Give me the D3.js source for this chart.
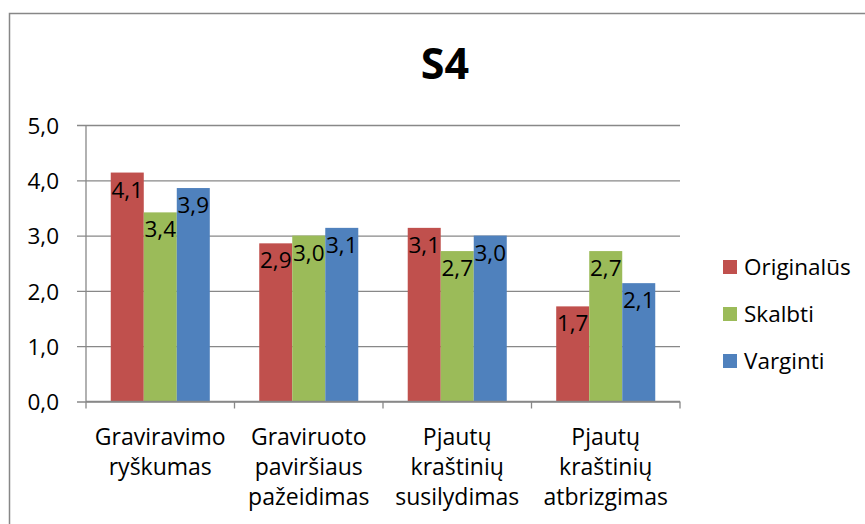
<!DOCTYPE html>
<html>
<head>
<meta charset="utf-8">
<script src="https://cdn.jsdelivr.net/npm/d3@7"></script>
<style>
  html, body { margin: 0; padding: 0; background: #fff; }
  svg { display: block; font-family: "Open Sans", sans-serif; }
</style>
</head>
<body>
<svg id="chart" width="865" height="524"></svg>
<script>
// Category labels (split into lines as drawn under the axis)
const categories = [
  ["Graviravimo", "ryškumas"],
  ["Graviruoto", "paviršiaus", "pažeidimas"],
  ["Pjautų", "kraštinių", "susilydimas"],
  ["Pjautų", "kraštinių", "atbrizgimas"]
];
const seriesNames = ["Originalūs", "Skalbti", "Varginti"];
const originalus = [4.14, 2.86, 3.14, 1.72];
const skalbti = [3.42, 3.00, 2.72, 2.72];
const varginti = [3.86, 3.14, 3.00, 2.14];
const seriesColors = ["#C0504D", "#9BBB59", "#4F81BD"];
const yTicks = [0, 1, 2, 3, 4, 5];
const title = "S4";

const series = [originalus, skalbti, varginti];
const svg = d3.select("#chart");
const fmt = v => d3.format(".1f")(v).replace(".", ",");
const fontSize = 22.5;

// Chart frame (outer border)
svg.append("rect")
  .attr("x", 9.5).attr("y", 13.5)
  .attr("width", 900).attr("height", 600)
  .attr("fill", "#fff")
  .attr("stroke", "#878787").attr("stroke-width", 1.5);

// Title
svg.append("text")
  .attr("x", 445).attr("y", 79)
  .attr("text-anchor", "middle")
  .attr("font-weight", "bold")
  .attr("font-size", 43)
  .attr("fill", "#000")
  .text(title);

const plot = { left: 86, right: 680, top: 125, bottom: 401.5 };

const y = d3.scaleLinear().domain([0, 5]).range([plot.bottom, plot.top]);
const x0 = d3.scaleBand().domain(d3.range(categories.length))
  .range([plot.left, plot.right]).paddingInner(0.333).paddingOuter(0.1667);
const x1 = d3.scaleBand().domain(d3.range(series.length))
  .range([0, x0.bandwidth()]);

// Horizontal gridlines with left tick marks
const yAxis = d3.axisLeft(y).tickValues(yTicks)
  .tickSize(-(plot.right - plot.left)).tickPadding(27)
  .tickFormat(fmt);
const gy = svg.append("g").attr("transform", `translate(${plot.left},0)`).call(yAxis);
gy.select(".domain").remove();
gy.selectAll(".tick line")
  .attr("x1", -9)
  .attr("stroke", "#888").attr("stroke-width", 1.3);
gy.selectAll(".tick text")
  .attr("font-family", "Open Sans, sans-serif")
  .attr("font-size", fontSize).attr("fill", "#000")
  .attr("x", -27).attr("dy", "0.36em");

// Vertical axis line
svg.append("line")
  .attr("x1", plot.left).attr("x2", plot.left)
  .attr("y1", plot.top).attr("y2", plot.bottom)
  .attr("stroke", "#888").attr("stroke-width", 1.3);

// Bars
const groups = svg.append("g").selectAll("g")
  .data(categories.map((c, i) => i))
  .join("g")
  .attr("transform", i => `translate(${x0(i)},0)`);

groups.selectAll("rect")
  .data(i => series.map((s, k) => ({ k, v: s[i] })))
  .join("rect")
  .attr("x", d => x1(d.k))
  .attr("y", d => y(d.v))
  .attr("width", x1.bandwidth())
  .attr("height", d => y(0) - y(d.v))
  .attr("fill", d => seriesColors[d.k]);

// Value labels just inside the top of each bar
groups.selectAll("text")
  .data(i => series.map((s, k) => ({ k, v: s[i] })))
  .join("text")
  .attr("x", d => x1(d.k) + x1.bandwidth() / 2)
  .attr("y", d => y(d.v) + 25)
  .attr("text-anchor", "middle")
  .attr("font-size", fontSize)
  .attr("fill", "#000")
  .text(d => fmt(d.v));

// Category axis line and ticks between categories
svg.append("line")
  .attr("x1", plot.left).attr("x2", plot.right)
  .attr("y1", plot.bottom).attr("y2", plot.bottom)
  .attr("stroke", "#888").attr("stroke-width", 1.3);
const step = (plot.right - plot.left) / categories.length;
svg.append("g").selectAll("line")
  .data(d3.range(categories.length + 1))
  .join("line")
  .attr("x1", i => plot.left + i * step).attr("x2", i => plot.left + i * step)
  .attr("y1", plot.bottom).attr("y2", plot.bottom + 7)
  .attr("stroke", "#888").attr("stroke-width", 1.3);

// Category labels
const catText = svg.append("g").selectAll("text")
  .data(categories)
  .join("text")
  .attr("x", (c, i) => x0(i) + x0.bandwidth() / 2)
  .attr("y", 445)
  .attr("text-anchor", "middle")
  .attr("font-size", 23)
  .attr("fill", "#000");
catText.selectAll("tspan")
  .data(c => c)
  .join("tspan")
  .attr("x", function () { return d3.select(this.parentNode).attr("x"); })
  .attr("dy", (d, j) => j === 0 ? 0 : 30)
  .text(d => d);

// Legend
const legend = svg.append("g").selectAll("g")
  .data(seriesNames)
  .join("g")
  .attr("transform", (d, i) => `translate(723,${267 + i * 47})`);
legend.append("rect")
  .attr("x", 0).attr("y", -7)
  .attr("width", 14).attr("height", 14)
  .attr("fill", (d, i) => seriesColors[i]);
legend.append("text")
  .attr("x", 21).attr("y", 0).attr("dy", "0.36em")
  .attr("font-size", fontSize)
  .attr("fill", "#000")
  .text(d => d);
</script>
</body>
</html>
